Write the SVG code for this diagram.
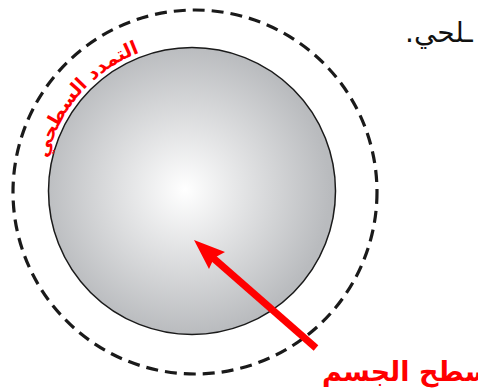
<svg xmlns="http://www.w3.org/2000/svg" width="478" height="390" viewBox="0 0 478 390">
<style>
.ar{font-family:"DejaVu Sans",sans-serif;}
.red{fill:#ff0000;font-weight:bold;}
</style>
<defs>
<radialGradient id="g" cx="185" cy="190" r="145" gradientUnits="userSpaceOnUse">
<stop offset="0" stop-color="#ffffff"/>
<stop offset="1" stop-color="#b9bbbe"/>
</radialGradient>
<path id="arc" d="M 44 188.4 A 148 148 0 0 1 168.9 44.8"/>
</defs>
<g id="outer">
<circle cx="195" cy="192" r="182" fill="none" stroke="#1a1a1a" stroke-width="3.2" stroke-dasharray="12 7"/>
</g>
<g id="body">
<circle cx="192" cy="191" r="143.5" fill="url(#g)" stroke="#1a1a1a" stroke-width="1.5"/>
</g>
<g id="arc-label">
<text class="ar red" font-size="19" text-anchor="middle"><textPath href="#arc" startOffset="50%">التمدد السطحي</textPath></text>
</g>
<g id="connectors">
<line x1="316" y1="348" x2="212" y2="257" stroke="#ff0000" stroke-width="7"/>
<polygon points="194,240 225,252 214,258 209,269" fill="#ff0000"/>
</g>
<g id="labels">
<text class="ar" x="405" y="42" font-size="28" direction="rtl" text-anchor="end" fill="#111">ـلحي.</text>
<text class="ar red" x="322" y="381" font-size="27" direction="rtl" text-anchor="end">سطح الجسم</text>
</g>
</svg>
